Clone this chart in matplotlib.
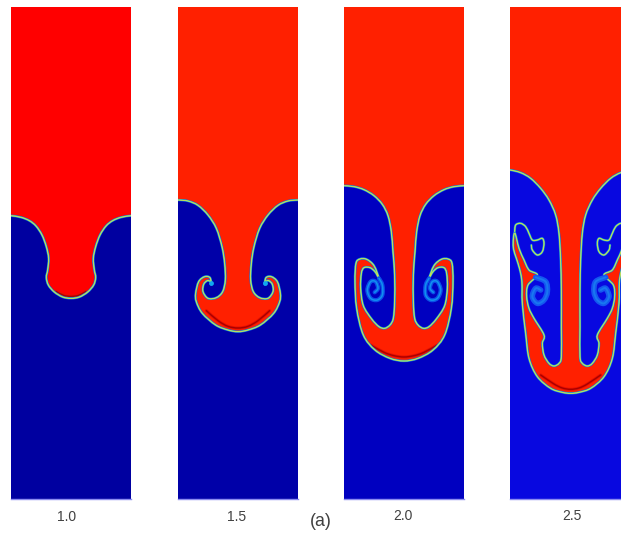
import matplotlib
matplotlib.use("Agg")
import matplotlib.pyplot as plt
from matplotlib.path import Path
from matplotlib.patches import PathPatch

W, H = 621, 534

# all outlines are half profiles (distance from stem axis, depth), in 1/3 px
labels = ["1.0", "1.5", "2.0", "2.5"]
label_x = [66.7, 236.5, 402.5, 572]
label_y = [517, 517, 516, 516]
panel_left = [11, 178, 344, 510]
crop_top = [190, 190, 175, 160]
fluid_blue = ["#0000a0", "#0000a8", "#0000c0", "#0808e0"]
fluid_red = ["#ff0000", "#ff2000", "#ff2000", "#ff2000"]

interface_1 = [(200, 77), (181, 77), (150, 82), (125, 92), (105, 108), (87, 135), (74, 170), (67, 205), (70, 240),
               (74, 262), (68, 285), (50, 306), (25, 321), (0, 325)]
interface_2 = [(200, 30), (180, 30), (150, 33), (120, 46), (90, 75), (65, 115), (48, 170), (40, 220), (38, 270),
               (46, 305), (65, 323), (90, 325), (105, 305), (103, 283), (92, 272), (82, 275), (80, 283),
               (84, 263), (100, 260), (118, 275), (127, 310), (125, 335), (107, 370), (67, 405), (30, 420), (0, 425)]
interface_3 = [(200, 32), (183, 32), (150, 35), (120, 44), (90, 62), (65, 88), (48, 122), (38, 170), (33, 230),
               (28, 300), (28, 380), (32, 430), (42, 450), (58, 460), (75, 455), (97, 432), (122, 392),
               (130, 340), (128, 295), (120, 278), (102, 278), (87, 290), (75, 310), (90, 272), (112, 253),
               (132, 252), (144, 265), (147, 320), (142, 400), (122, 480), (87, 525), (42, 550), (0, 558)]
interface_4 = [(200, 30), (182, 30), (150, 38), (120, 55), (90, 85), (65, 120), (45, 165), (35, 220), (30, 300),
               (28, 390), (28, 500), (28, 590), (35, 610), (50, 618), (65, 610), (80, 585), (85, 550),
               (80, 525), (110, 475), (125, 445), (132, 410), (128, 375), (100, 345), (125, 330), (140, 300),
               (155, 265), (168, 218), (172, 262), (158, 310), (150, 340), (146, 370), (145, 430),
               (135, 520), (125, 595), (100, 650), (60, 685), (25, 697), (0, 700)]
interfaces = [interface_1, interface_2, interface_3, interface_4]

crescent_1 = [(45, 304), (22, 316), (0, 319)]
crescent_2 = [(95, 362), (60, 392), (30, 409), (0, 414)]
crescent_3 = [(100, 510), (60, 532), (30, 542), (0, 546)]
crescent_4 = [(90, 645), (50, 672), (25, 684), (0, 688)]
crescents = [crescent_1, crescent_2, crescent_3, crescent_4]

# rolled-up filaments next to the cap
vortex_rings = [
    [],
    [],
    [],
    [(168, 215), (165, 195), (150, 190), (135, 200), (125, 220), (115, 240), (100, 240), (85, 235),
     (80, 250), (85, 275), (100, 285), (115, 270), (118, 255)],
]
swirls = [
    [],
    [],
    [(75, 310), (65, 330), (65, 360), (80, 375), (100, 370), (110, 345), (100, 320), (85, 320), (78, 340), (88, 352)],
    [(105, 352), (75, 365), (70, 395), (80, 420), (100, 430), (115, 410), (105, 385), (90, 390)],
]
swirl_styles = [None, None, [("#0a50e8", 3.0), ("#1090f0", 1.1)], [("#1458f0", 4.0), ("#1878f0", 1.4)]]
vortex_core = [None, (82, 280), None, None]


def smooth_path(pts):
    # Catmull-Rom through the outline points, written as bezier segments
    verts = [pts[0]]
    codes = [Path.MOVETO]
    n = len(pts)
    for i in range(n - 1):
        p0 = pts[max(i - 1, 0)]
        p1 = pts[i]
        p2 = pts[i + 1]
        p3 = pts[min(i + 2, n - 1)]
        c1 = (p1[0] + (p2[0] - p0[0]) / 6, p1[1] + (p2[1] - p0[1]) / 6)
        c2 = (p2[0] - (p3[0] - p1[0]) / 6, p2[1] - (p3[1] - p1[1]) / 6)
        verts += [c1, c2, p2]
        codes += [Path.CURVE4, Path.CURVE4, Path.CURVE4]
    return verts, codes


def mirrored(half):
    return list(half) + [(-x, y) for x, y in reversed(half[:-1])]


def stroke(ax, pts, styles):
    verts, codes = smooth_path(pts)
    for color, lw in styles:
        ax.add_patch(PathPatch(Path(verts, codes), fc="none", ec=color, lw=lw, joinstyle="round", capstyle="round"))


fig = plt.figure(figsize=(W / 100, H / 100), dpi=100)
fig.patch.set_facecolor("white")

rim = [("#1070e8", 1.7), ("#60d890", 1.0), ("#f0e040", 0.45)]

for i, label in enumerate(labels):
    ax = fig.add_axes([panel_left[i] / W, 1 - 499 / H, 120 / W, 492 / H])
    ax.set_xlim(-180 if i < 3 else -182, 180 if i < 3 else 178)
    ax.set_ylim((499 - crop_top[i]) * 3, (7 - crop_top[i]) * 3)
    ax.axis("off")
    ax.add_patch(plt.Rectangle((-300, -1000), 600, 3000, color=fluid_blue[i], lw=0))

    outline = mirrored(interfaces[i])
    top = ax.get_ylim()[1] - 30
    verts, codes = smooth_path(outline)
    verts = verts + [(-300, outline[-1][1]), (-300, top), (300, top), (300, outline[0][1]), outline[0]]
    codes = codes + [Path.LINETO, Path.LINETO, Path.LINETO, Path.LINETO, Path.CLOSEPOLY]
    ax.add_patch(PathPatch(Path(verts, codes), fc=fluid_red[i], ec="none"))

    # shaded band just inside the cap
    stroke(ax, mirrored(crescents[i]), [("#e81000", 2.2), ("#a80000", 1.0)])

    # soft colour ramp across the interface
    stroke(ax, outline, rim)

    for sign in (1, -1):
        if vortex_rings[i]:
            stroke(ax, [(sign * x, y) for x, y in vortex_rings[i]], rim)
        if swirls[i]:
            stroke(ax, [(sign * x, y) for x, y in swirls[i]], swirl_styles[i])
        if vortex_core[i]:
            ax.plot(sign * vortex_core[i][0], vortex_core[i][1], "o", ms=3.5, color="#10a8f0", mec="none")

    # pale bottom edge from the scan
    ax.plot(ax.get_xlim(), [ax.get_ylim()[0]] * 2, color="#8c8cf0", lw=1.0, clip_on=False, scalex=False, scaley=False)

text_ax = fig.add_axes([0, 0, 1, 1])
text_ax.set_xlim(0, W)
text_ax.set_ylim(H, 0)
text_ax.axis("off")
text_ax.patch.set_alpha(0)
for x, y, s in zip(label_x, label_y, labels):
    text_ax.text(x, y, s, ha="center", va="center", fontsize=10, color="#404040", family="Liberation Sans")
text_ax.text(320.5, 522, "(a)", ha="center", va="center", fontsize=12.8, color="#404040", family="Liberation Sans")

fig.savefig("out.png", dpi=100)
